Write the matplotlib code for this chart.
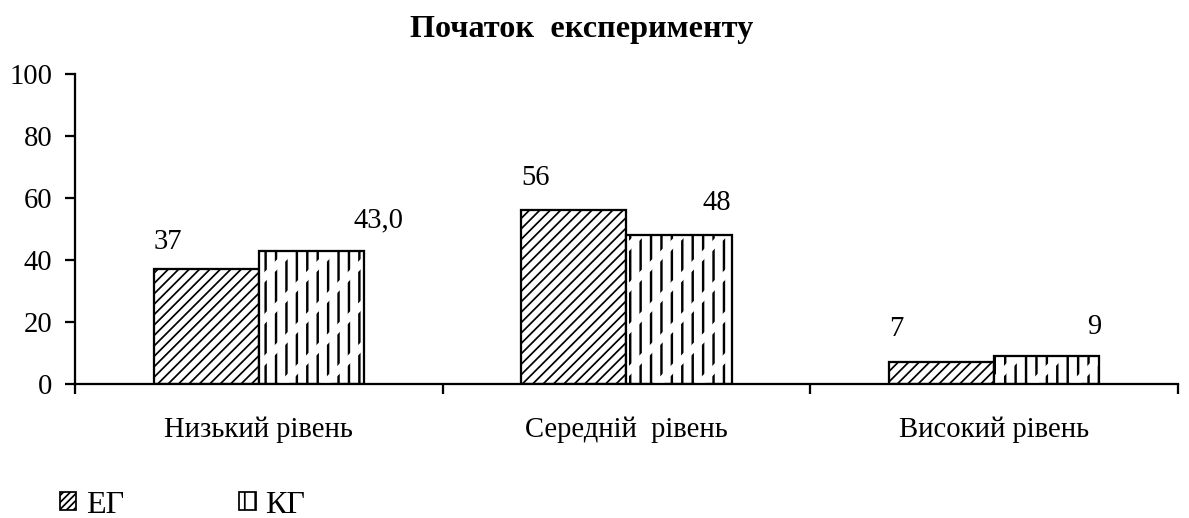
import numpy as np
import matplotlib.pyplot as plt
from matplotlib.patches import Patch

# chart data
categories = ['Низький рівень', 'Середній  рівень', 'Високий рівень']
eg_values = [37, 56, 7]
kg_values = [43, 48, 9]
eg_labels = ['37', '56', '7']
kg_labels = ['43,0', '48', '9']
y_ticks = [0, 20, 40, 60, 80, 100]

# where the value labels were dragged to (offsets from the bar)
eg_label_dy = [8.7, 10.5, 10.7]
kg_label_dx = [0.326, 0.245, 0.272]
kg_label_dy = [9.9, 10.4, 9.4]

plt.rcParams['font.family'] = ['Liberation Serif', 'DejaVu Serif']
plt.rcParams['font.size'] = 16.5

fig = plt.figure(figsize=(1189 / 125, 518 / 125), dpi=125)
ax = fig.add_axes([0.063, 0.2587, 0.9277, 0.5985])

x = np.arange(len(categories))
w = 0.286

# ЕГ: dense diagonal hatching
with plt.rc_context({'hatch.linewidth': 1.0}):
    ax.bar(x - w / 2, eg_values, w, facecolor='white', edgecolor='black',
           hatch='////', linewidth=1.3, zorder=2)

# КГ: staggered vertical dashes = vertical hatch cut by white diagonal hatch
with plt.rc_context({'hatch.linewidth': 1.4}):
    ax.bar(x + w / 2, kg_values, w, facecolor='white', edgecolor='black',
           hatch='||', linewidth=0, zorder=2)
with plt.rc_context({'hatch.linewidth': 4.2}):
    ax.bar(x + w / 2, kg_values, w, facecolor='none', edgecolor='white',
           hatch='/', linewidth=0, zorder=3)
ax.bar(x + w / 2, kg_values, w, facecolor='none', edgecolor='black',
       linewidth=1.3, zorder=4)

# value labels
for i in range(len(categories)):
    ax.text(x[i] - w, eg_values[i] + eg_label_dy[i], eg_labels[i],
            ha='left', va='center')
    ax.text(x[i] + kg_label_dx[i], kg_values[i] + kg_label_dy[i], kg_labels[i],
            ha='center', va='center')

ax.set_xlim(-0.5, 2.5)
ax.set_ylim(0, 100)
ax.set_yticks(y_ticks)
ax.set_xticks(x)
ax.set_xticklabels(categories)
ax.set_xticks([-0.5, 0.5, 1.5, 2.5], minor=True)
ax.tick_params(axis='x', which='major', length=0, pad=19)
ax.tick_params(axis='x', which='minor', length=6, width=1.3, direction='out')
ax.tick_params(axis='y', length=6, width=1.3, direction='out', pad=7)
for s in ['top', 'right']:
    ax.spines[s].set_visible(False)
for s in ['left', 'bottom']:
    ax.spines[s].set_linewidth(1.3)

fig.text(0.489, 1 - 30 / 518, 'Початок  експерименту', fontweight='bold',
         fontsize=18.6, ha='center', va='center')

with plt.rc_context({'hatch.linewidth': 1.6}):
    handles = [Patch(facecolor='white', edgecolor='black', hatch='//////', label='ЕГ'),
               Patch(facecolor='white', edgecolor='black', hatch='||', label='КГ')]
fig.legend(handles=handles, loc='center left', bbox_to_anchor=(0.0505, 0.025),
           ncol=2, frameon=False, fontsize=18.5, handlelength=0.5,
           handleheight=0.5, handletextpad=0.3, columnspacing=3.6,
           borderpad=0, borderaxespad=0)

fig.savefig('out.png', dpi=125)
